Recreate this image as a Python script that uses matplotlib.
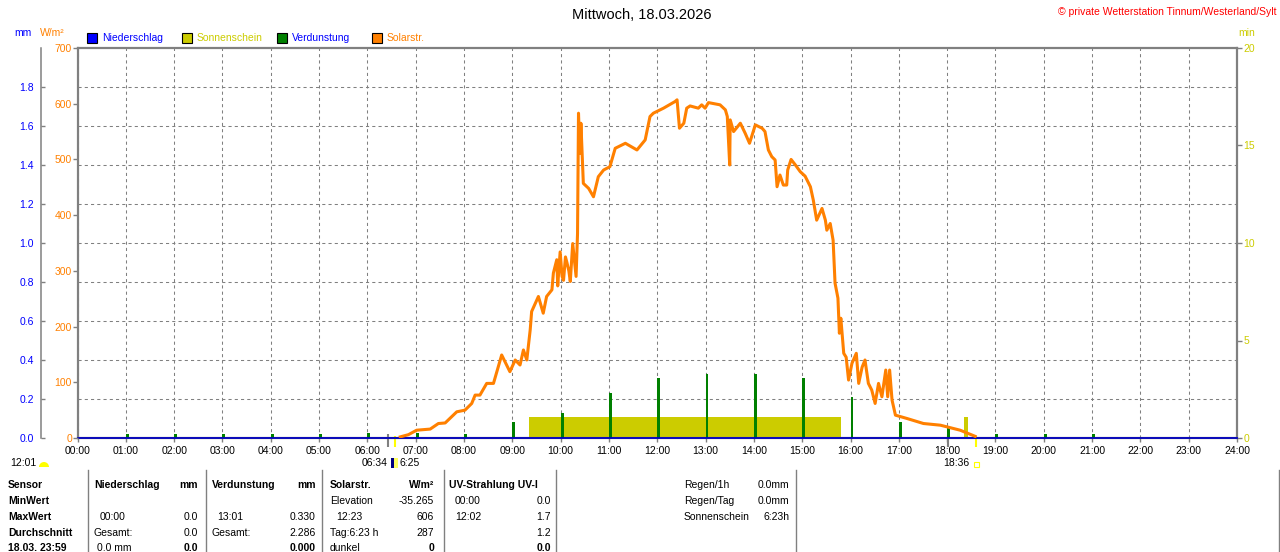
import numpy as np
import matplotlib
matplotlib.use("Agg")
import matplotlib.pyplot as plt
from matplotlib.patches import Rectangle, Wedge
from matplotlib.lines import Line2D
from matplotlib.transforms import IdentityTransform

plt.rcParams["font.family"] = ["Liberation Sans", "DejaVu Sans"]
plt.rcParams["font.size"] = 7.5

# --- data ---
solar_h = [6.68, 6.85, 7.02, 7.30, 7.47, 7.61, 7.85, 8.02, 8.16, 8.23, 8.33, 8.47, 8.61,
           8.71, 8.78, 8.95, 9.06, 9.16, 9.23, 9.30, 9.37, 9.40, 9.54, 9.64, 9.71, 9.82,
           9.85, 9.92, 9.94, 9.99, 10.03, 10.06, 10.10, 10.13, 10.17, 10.20, 10.25, 10.32,
           10.35, 10.37, 10.40, 10.42, 10.47, 10.58, 10.68, 10.78, 10.89, 11.02, 11.13,
           11.34, 11.58, 11.75, 11.85, 11.92, 12.13, 12.37, 12.41, 12.46, 12.55, 12.61,
           12.68, 12.85, 12.92, 12.99, 13.06, 13.30, 13.41, 13.45, 13.50, 13.51, 13.58,
           13.72, 13.82, 13.91, 14.03, 14.17, 14.23, 14.30, 14.37, 14.44, 14.48, 14.54,
           14.61, 14.68, 14.70, 14.77, 14.86, 14.96, 15.06, 15.17, 15.23, 15.30, 15.41,
           15.48, 15.51, 15.58, 15.64, 15.68, 15.74, 15.77, 15.80, 15.86, 15.91, 15.96,
           16.03, 16.12, 16.17, 16.24, 16.30, 16.37, 16.44, 16.51, 16.58, 16.65, 16.73,
           16.77, 16.81, 16.86, 16.93, 17.17, 17.51, 17.86, 18.27, 18.58]
solar_w = [2, 6, 14, 16, 26, 27, 47, 50, 62, 77, 77, 98, 98,
           128, 149, 119, 140, 131, 158, 140, 194, 227, 254, 224, 254, 266,
           296, 320, 273, 334, 290, 283, 325, 315, 300, 281, 349, 290,
           367, 583, 511, 565, 457, 448, 433, 469, 481, 487, 520,
           529, 517, 535, 577, 583, 592, 604, 607, 556, 565, 592,
           596, 592, 598, 592, 602, 598, 589, 577, 490, 571, 550,
           565, 547, 529, 562, 556, 550, 517, 505, 499, 451, 472,
           454, 454, 481, 500, 490, 478, 470, 451, 427, 391, 412,
           391, 373, 385, 355, 278, 251, 188, 215, 152, 145, 104,
           134, 152, 98, 127, 140, 98, 86, 62, 98, 74, 122,
           74, 122, 68, 41, 35, 26, 23, 14, 3]

sun_start = [9.35, 18.35]
sun_end = [15.80, 18.43]
sun_min = [1.1, 1.1]

evap_h = [1, 2, 3, 4, 5, 6, 7, 8, 9, 10, 11, 12, 13, 14, 15, 16, 17, 18, 19, 20, 21]
evap_mm = [0.02, 0.02, 0.02, 0.02, 0.02, 0.025, 0.025, 0.02, 0.08, 0.13, 0.23, 0.31,
           0.33, 0.33, 0.31, 0.21, 0.08, 0.055, 0.02, 0.02, 0.02]

rain_h = [0, 24]
rain_mm = [0.0, 0.0]

twilight_h = [6.43, 18.02]
sunrise_set_h = [6.57, 18.60]

hour_ticks = list(range(25))
hour_labels = ["%02d:00" % h for h in hour_ticks]
mm_ticks = [0.0, 0.2, 0.4, 0.6, 0.8, 1.0, 1.2, 1.4, 1.6, 1.8]
w_ticks = [0, 100, 200, 300, 400, 500, 600, 700]
min_ticks = [0, 5, 10, 15, 20]

W, H = 1280, 552
GRAY = "#808080"
ORANGE = "#FF8000"
YELLOW = "#CCCC00"
GREEN = "#008000"
BLUE = "#0000FF"
RED = "#FF0000"


def px(x, y):
    return (x / W, 1 - y / H)


fig = plt.figure(figsize=(12.8, 5.52), dpi=100)
L, R, T, B = 77.5, 1237, 48, 438
ax_min = fig.add_axes([L / W, 1 - B / H, (R - L) / W, (B - T) / H])
ax_mm = ax_min.twinx()
ax_w = ax_min.twinx()

# sunshine (min) - bottom layer, carries the x axis and frame
ax_min.set_xlim(0, 24)
ax_min.set_ylim(0, 20)
ax_min.set_xticks(hour_ticks)
ax_min.set_xticklabels(hour_labels)
ax_min.yaxis.tick_right()
ax_min.set_yticks(min_ticks)
ax_min.tick_params(axis="y", colors=GRAY, labelcolor=YELLOW, direction="out",
                   length=3.5, width=1, pad=1)
ax_min.tick_params(axis="x", colors=GRAY, labelcolor="black", direction="out",
                   length=3, width=1, pad=3)
for s in ax_min.spines.values():
    s.set_color(GRAY)
    s.set_linewidth(1.6)
ax_min.set_axisbelow(True)
ax_min.xaxis.grid(True, color=GRAY, linestyle=(0, (3, 3)), linewidth=0.75)
ax_min.bar(sun_start, sun_min, width=np.subtract(sun_end, sun_start), align="edge",
           color=YELLOW, linewidth=0)

# evaporation / precipitation (mm)
ax_mm.set_ylim(0, 2.0)
ax_mm.yaxis.tick_left()
ax_mm.yaxis.set_label_position("left")
ax_mm.set_yticks(mm_ticks)
ax_mm.set_yticklabels(["%.1f" % v for v in mm_ticks])
ax_mm.tick_params(axis="y", colors=GRAY, labelcolor=BLUE, direction="in",
                  length=3, width=1, pad=5)
for name, s in ax_mm.spines.items():
    s.set_visible(name == "left")
ax_mm.spines["left"].set_position(("outward", 26.3))
ax_mm.spines["left"].set_color(GRAY)
ax_mm.spines["left"].set_linewidth(1.1)
ax_mm.set_axisbelow(True)
ax_mm.yaxis.grid(True, color=GRAY, linestyle=(0, (3, 3)), linewidth=0.75)
ax_mm.bar(evap_h, evap_mm, width=0.06, align="edge", color=GREEN, linewidth=0)
ax_mm.plot(rain_h, rain_mm, color="#0000C0", lw=1.3, clip_on=False, zorder=5)

# solar radiation (W/m2)
ax_w.set_ylim(0, 700)
ax_w.yaxis.tick_left()
ax_w.set_yticks(w_ticks)
ax_w.tick_params(axis="y", colors=GRAY, labelcolor=ORANGE, direction="out",
                 length=3.5, width=1, pad=0.5)
for s in ax_w.spines.values():
    s.set_visible(False)
ax_w.plot(solar_h, solar_w, color=ORANGE, lw=2.2, solid_joinstyle="round")

# twinx moved the min ticks to the left, put them back right
ax_min.yaxis.tick_right()
ax_min.tick_params(axis="y", colors=GRAY, labelcolor=YELLOW, direction="out",
                   length=3.5, width=1, pad=1)

# sunrise / sunset markers below the axis
ax_min.vlines(twilight_h, -0.45, 0.2, colors=GRAY, lw=1.5, clip_on=False)
ax_min.vlines(sunrise_set_h, -0.45, 0.1, colors="#FFFF00", lw=1.5, clip_on=False)

# header texts
fig.text(*px(642, 15), "Mittwoch, 18.03.2026", ha="center", va="center", fontsize=10.5)
fig.text(*px(1276, 12), "© private Wetterstation Tinnum/Westerland/Sylt", ha="right",
         va="center", color=RED)
fig.text(*px(14, 33), "mm", color=BLUE, va="center")
fig.text(*px(40, 33), "W/m²", color=ORANGE, va="center")
fig.text(*px(1238, 33), "min", color=YELLOW, va="center")

legend = [(87, "Niederschlag", BLUE, BLUE), (182, "Sonnenschein", YELLOW, YELLOW),
          (277, "Verdunstung", GREEN, BLUE), (372, "Solarstr.", ORANGE, ORANGE)]
for x0, label, fc, tc in legend:
    fig.add_artist(Rectangle((x0, H - 43), 10, 10, transform=IdentityTransform(),
                             facecolor=fc, edgecolor="black", lw=0.8))
    fig.text(*px(x0 + 15, 38), label, color=tc, va="center")

# texts under the axis
fig.text(*px(10, 463), "12:01", va="center")
fig.add_artist(Wedge((44, H - 467), 5, 0, 180, transform=IdentityTransform(),
                     facecolor="#FFFF00", edgecolor="none"))
fig.text(*px(387, 463), "06:34", ha="right", va="center")
fig.add_artist(Rectangle((391, H - 468), 3, 10, transform=IdentityTransform(),
                         facecolor="#000080", edgecolor="none"))
fig.add_artist(Rectangle((394, H - 468), 4, 10, transform=IdentityTransform(),
                         facecolor="#FFFF60", edgecolor="none"))
fig.text(*px(399, 463), "6:25", va="center")
fig.text(*px(969, 463), "18:36", ha="right", va="center")
fig.add_artist(Rectangle((974, H - 467), 5, 5, transform=IdentityTransform(),
                         facecolor="none", edgecolor="#FFFF00", lw=0.8))

# table below
for xs in [88, 206, 322, 444, 556, 796, 1279]:
    fig.add_artist(Line2D([xs / W, xs / W], [1 - 470 / H, 0], transform=fig.transFigure,
                          color=GRAY, lw=1))

rows_y = [485, 501, 517, 533, 548]
table = [
    # (x, row, text, ha, bold)
    (8, 0, "Sensor", "left", True), (8, 1, "MinWert", "left", True),
    (8, 2, "MaxWert", "left", True), (8, 3, "Durchschnitt", "left", True),
    (8, 4, "18.03. 23:59", "left", True),
    (94, 0, "Niederschlag", "left", True), (198, 0, "mm", "right", True),
    (100, 2, "00:00", "left", False), (198, 2, "0.0", "right", False),
    (94, 3, "Gesamt:", "left", False), (198, 3, "0.0", "right", False),
    (97, 4, "0.0 mm", "left", False), (198, 4, "0.0", "right", True),
    (212, 0, "Verdunstung", "left", True), (316, 0, "mm", "right", True),
    (217, 2, "13:01", "left", False), (316, 2, "0.330", "right", False),
    (212, 3, "Gesamt:", "left", False), (316, 3, "2.286", "right", False),
    (316, 4, "0.000", "right", True),
    (330, 0, "Solarstr.", "left", True), (434, 0, "W/m²", "right", True),
    (330, 1, "Elevation", "left", False), (434, 1, "-35.265", "right", False),
    (336, 2, "12:23", "left", False), (434, 2, "606", "right", False),
    (330, 3, "Tag:6:23 h", "left", False), (434, 3, "287", "right", False),
    (330, 4, "dunkel", "left", False), (434, 4, "0", "right", True),
    (449, 0, "UV-Strahlung UV-I", "left", True),
    (455, 1, "00:00", "left", False), (551, 1, "0.0", "right", False),
    (455, 2, "12:02", "left", False), (551, 2, "1.7", "right", False),
    (551, 3, "1.2", "right", False), (551, 4, "0.0", "right", True),
    (684, 0, "Regen/1h", "left", False), (789, 0, "0.0mm", "right", False),
    (684, 1, "Regen/Tag", "left", False), (789, 1, "0.0mm", "right", False),
    (684, 2, "Sonnenschein", "left", False), (789, 2, "6:23h", "right", False),
]
for x, r, s, ha, bold in table:
    fig.text(*px(x, rows_y[r]), s, ha=ha, va="center",
             fontweight="bold" if bold else "normal")

fig.savefig("out.png", dpi=100, facecolor="white")
